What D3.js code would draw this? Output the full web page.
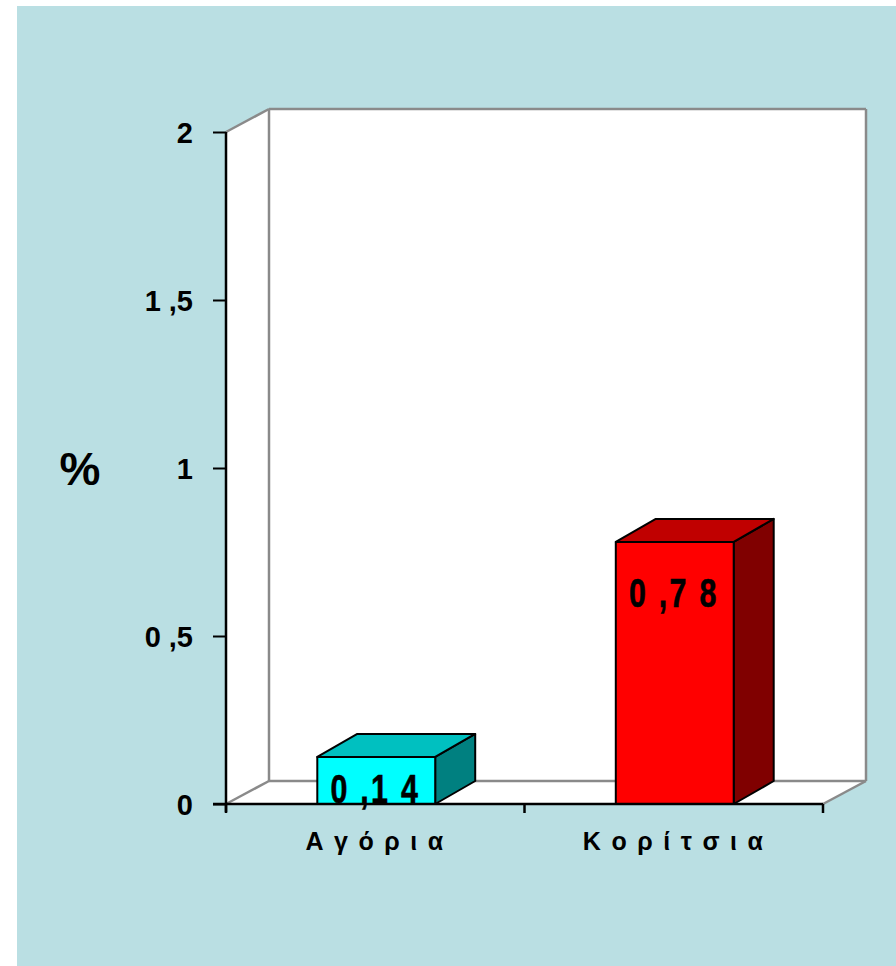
<!DOCTYPE html>
<html>
<head>
<meta charset="utf-8">
<script src="https://cdn.jsdelivr.net/npm/d3@7"></script>
<style>
  html, body { margin: 0; padding: 0; background: #ffffff; }
  svg { display: block; }
  text { font-family: "Liberation Sans", Arial, sans-serif; font-weight: bold; fill: #000; }
</style>
</head>
<body>
<svg id="chart" width="896" height="966"></svg>
<script>
// Percentages by group
const categories = ["Αγόρια", "Κορίτσια"];
const categoryLabels = ["Α γ ό ρ ι α", "Κ ο ρ ί τ σ ι α"];
const values = [0.14, 0.78];
const valueLabels = ["0 ,1 4", "0 ,7 8"];
const tickValues = [0, 0.5, 1, 1.5, 2];
const tickLabels = ["0", "0 ,5", "1", "1 ,5", "2"];
const frontColors = ["#00FFFF", "#FF0000"];
const topColors = ["#00C0C0", "#C00000"];
const sideColors = ["#008080", "#800000"];

const svg = d3.select("#chart");

// panel background
svg.append("rect").attr("x", 17).attr("y", 6).attr("width", 879).attr("height", 960)
  .attr("fill", "#BADFE3");

const left = 226, right = 823;
const y = d3.scaleLinear().domain([0, 2]).range([804, 132]);
const x = d3.scaleBand().domain(categories).range([left, right]).paddingInner(0).paddingOuter(0);
const barW = x.bandwidth() * 0.395;
const wallDx = 43, wallDy = -23;
const barDx = 40, barDy = -23;

const y0 = y(0), yTop = y(2);

// 3D walls and floor
const gWalls = svg.append("g");
gWalls.append("polygon")
  .attr("points", [[left + wallDx, yTop + wallDy], [right + wallDx, yTop + wallDy], [right + wallDx, y0 + wallDy], [left + wallDx, y0 + wallDy]].join(" "))
  .attr("fill", "#fff");
gWalls.append("polygon")
  .attr("points", [[left, yTop], [left + wallDx, yTop + wallDy], [left + wallDx, y0 + wallDy], [left, y0]].join(" "))
  .attr("fill", "#fff");
gWalls.append("polygon")
  .attr("points", [[left, y0], [left + wallDx, y0 + wallDy], [right + wallDx, y0 + wallDy], [right, y0]].join(" "))
  .attr("fill", "#fff");

const grey = "#8a8a8a";
const edges = [
  [[left, yTop], [left + wallDx, yTop + wallDy]],
  [[left + wallDx, yTop + wallDy], [right + wallDx, yTop + wallDy]],
  [[left + wallDx, yTop + wallDy], [left + wallDx, y0 + wallDy]],
  [[right + wallDx, yTop + wallDy], [right + wallDx, y0 + wallDy]],
  [[left, y0], [left + wallDx, y0 + wallDy]],
  [[left + wallDx, y0 + wallDy], [right + wallDx, y0 + wallDy]],
  [[right, y0], [right + wallDx, y0 + wallDy]]
];
gWalls.selectAll("line").data(edges).join("line")
  .attr("x1", d => d[0][0]).attr("y1", d => d[0][1])
  .attr("x2", d => d[1][0]).attr("y2", d => d[1][1])
  .attr("stroke", grey).attr("stroke-width", 2.5);

// bars
const bars = svg.append("g").selectAll("g").data(values).join("g");
bars.each(function (v, i) {
  const g = d3.select(this);
  const xc = x(categories[i]) + x.bandwidth() / 2 + 1;
  const x1 = xc - barW / 2, x2 = xc + barW / 2;
  const yt = y(v);
  const poly = (pts, fill) => g.append("polygon").attr("points", pts.join(" ")).attr("fill", fill)
    .attr("stroke", "#000").attr("stroke-width", 2).attr("stroke-linejoin", "round");
  poly([[x2, yt], [x2 + barDx, yt + barDy], [x2 + barDx, y0 + barDy], [x2, y0]], sideColors[i]);
  poly([[x1, yt], [x1 + barDx, yt + barDy], [x2 + barDx, yt + barDy], [x2, yt]], topColors[i]);
  poly([[x1, yt], [x2, yt], [x2, y0], [x1, y0]], frontColors[i]);
});

// y axis
const yAxis = d3.axisLeft(y).tickValues(tickValues)
  .tickFormat((d, i) => tickLabels[i]).tickSize(13).tickPadding(20);
const gy = svg.append("g").attr("transform", `translate(${left},0)`).call(yAxis);
gy.select(".domain").attr("stroke", "#000").attr("stroke-width", 2.5)
  .attr("d", `M0,${yTop}V${y0 + 8}`);
gy.selectAll(".tick line").attr("stroke", "#000").attr("stroke-width", 2);
gy.selectAll(".tick text").attr("font-size", 29).attr("font-family", "Liberation Sans, Arial, sans-serif")
  .attr("font-weight", "bold").attr("dy", "0.36em");

// x axis
const xAxis = d3.axisBottom(x).tickSize(0).tickPadding(28).tickFormat((d, i) => categoryLabels[i]);
const gx = svg.append("g").attr("transform", `translate(0,${y0})`).call(xAxis);
gx.select(".domain").attr("stroke", "#000").attr("stroke-width", 2.5)
  .attr("d", `M${left - 13},0H${right}`);
gx.selectAll(".tick text").attr("font-size", 25).attr("font-family", "Liberation Sans, Arial, sans-serif")
  .attr("font-weight", "bold").attr("letter-spacing", 1.8);
// category separators
const sep = [left, left + x.step(), right];
gx.selectAll(".sep").data(sep).join("line").attr("class", "sep")
  .attr("x1", d => d).attr("x2", d => d).attr("y1", 0).attr("y2", 9)
  .attr("stroke", "#000").attr("stroke-width", 2.5);

// value labels (condensed bold digits)
svg.append("g").selectAll("text").data(values).join("text")
  .attr("transform", (v, i) =>
    `translate(${x(categories[i]) + x.bandwidth() / 2},${Math.min(y(v) + 65, y0 - 1)}) scale(0.76,1)`)
  .attr("text-anchor", "middle")
  .attr("font-size", 40)
  .attr("letter-spacing", 3)
  .attr("stroke", "#000").attr("stroke-width", 0.6)
  .text((v, i) => valueLabels[i]);

// axis title
svg.append("text").attr("x", 80).attr("y", 485).attr("text-anchor", "middle")
  .attr("font-size", 46).text("%");

// partially clipped label at the left edge
svg.append("text").attr("x", -17).attr("y", 781).attr("font-size", 30).text("0");
</script>
</body>
</html>
